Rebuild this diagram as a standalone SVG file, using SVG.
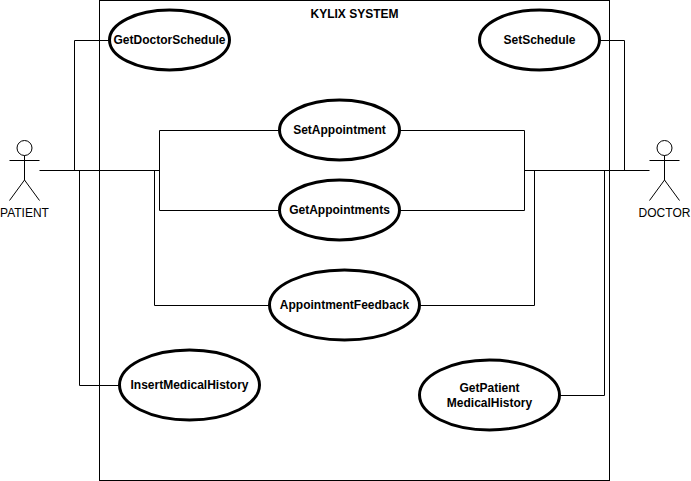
<svg xmlns="http://www.w3.org/2000/svg" width="691" height="481" viewBox="0 0 691 481">
<style>
text{font-family:"Liberation Sans",Arial,sans-serif;font-size:12px;fill:#000;text-anchor:middle}
.b{font-weight:bold}
.uc{fill:#fff;stroke:#000;stroke-width:3}
.ln{fill:none;stroke:#000;stroke-width:1}
</style>
<rect width="691" height="481" fill="#fff"/>
<g id="system">
<rect class="ln" x="99.5" y="0.5" width="510" height="480"/>
<text class="b" x="354.5" y="18">KYLIX SYSTEM</text>
</g>
<g id="connectors" class="ln">
<path d="M39.5 170.5H159.5"/>
<path d="M74.5 170.5V40.5H109.5"/>
<path d="M79.5 170.5V385.5H119.5"/>
<path d="M154.5 170.5V305.5H269.5"/>
<path d="M279.5 130.5H159.5V210.5H279.5"/>
<path d="M649.5 170.5H524.5"/>
<path d="M624.5 170.5V40.5H599.5"/>
<path d="M604.5 170.5V395.5H559.5"/>
<path d="M534.5 170.5V305.5H419.5"/>
<path d="M399.5 130.5H524.5V210.5H399.5"/>
</g>
<g id="patient">
<g class="ln"><circle cx="24.5" cy="148" r="7.5"/><path d="M24.5 155.5V180M9.5 160.5H39.5M9.5 200.5L24.5 180L39.5 200.5"/></g>
<text x="24.5" y="217">PATIENT</text>
</g>
<g id="doctor">
<g class="ln"><circle cx="664.5" cy="148" r="7.5"/><path d="M664.5 155.5V180M649.5 160.5H679.5M649.5 200.5L664.5 180L679.5 200.5"/></g>
<text x="664.5" y="217">DOCTOR</text>
</g>
<g id="get-doctor-schedule"><ellipse class="uc" cx="169.5" cy="40" rx="60" ry="30"/><text class="b" x="169.5" y="44">GetDoctorSchedule</text></g>
<g id="set-schedule"><ellipse class="uc" cx="539.5" cy="40" rx="60" ry="30"/><text class="b" x="539.5" y="44">SetSchedule</text></g>
<g id="set-appointment"><ellipse class="uc" cx="339.5" cy="130" rx="60" ry="30"/><text class="b" x="339.5" y="134">SetAppointment</text></g>
<g id="get-appointments"><ellipse class="uc" cx="339.5" cy="210" rx="60" ry="30"/><text class="b" x="339.5" y="214">GetAppointments</text></g>
<g id="appointment-feedback"><ellipse class="uc" cx="344.5" cy="305" rx="75" ry="35"/><text class="b" x="344.5" y="309">AppointmentFeedback</text></g>
<g id="insert-medical-history"><ellipse class="uc" cx="189.5" cy="385" rx="70" ry="35"/><text class="b" x="189.5" y="389">InsertMedicalHistory</text></g>
<g id="get-patient-medical-history"><ellipse class="uc" cx="489.5" cy="395" rx="70" ry="35"/><text class="b" x="489.5" y="392">GetPatient</text><text class="b" x="489.5" y="407">MedicalHistory</text></g>
</svg>
